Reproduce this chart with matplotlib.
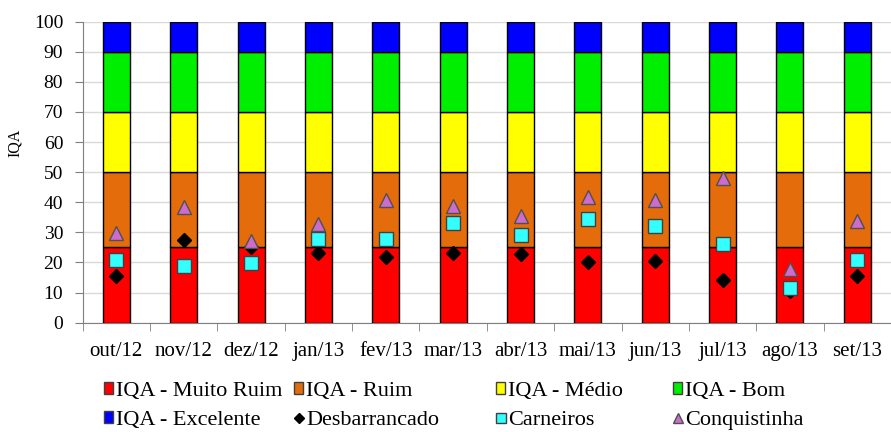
import numpy as np
import matplotlib
matplotlib.use('Agg')
import matplotlib.pyplot as plt
from matplotlib.patches import Patch
from matplotlib.lines import Line2D

plt.rcParams['font.family'] = ['Liberation Serif', 'DejaVu Serif']

meses = ['out/12', 'nov/12', 'dez/12', 'jan/13', 'fev/13', 'mar/13',
         'abr/13', 'mai/13', 'jun/13', 'jul/13', 'ago/13', 'set/13']

# faixas do IQA (empilhadas)
muito_ruim = [25] * 12
ruim = [25] * 12
medio = [20] * 12
bom = [20] * 12
excelente = [10] * 12

# pontos de coleta
desbarrancado = [15.6, 27.5, 25.3, 23.1, 21.8, 23.3, 22.9, 20.3, 20.5, 14.3, 10.5, 15.4]
carneiros = [20.9, 18.9, 19.8, 27.7, 27.7, 33.2, 29.1, 34.3, 32.0, 26.1, 11.6, 20.9]
conquistinha = [29.8, 38.5, 27.3, 32.8, 40.7, 38.7, 35.5, 41.6, 40.7, 48.2, 17.9, 33.8]

faixas = [('IQA - Muito Ruim', muito_ruim, '#ff0000'),
          ('IQA - Ruim', ruim, '#e46c0a'),
          ('IQA - Médio', medio, '#ffff00'),
          ('IQA - Bom', bom, '#00ee00'),
          ('IQA - Excelente', excelente, '#0000ff')]

fig = plt.figure(figsize=(8.91, 4.32), dpi=100)
ax = fig.add_axes([0.0928, 0.253, 0.9072, 0.697])

x = np.arange(len(meses))
base = np.zeros(len(meses))
handles = {}
for nome, vals, cor in faixas:
    ax.bar(x, vals, width=0.4, bottom=base, color=cor, edgecolor='black',
           linewidth=1.0, zorder=2)
    base = base + np.array(vals)
    handles[nome] = Patch(facecolor=cor, edgecolor='#404040', linewidth=1.0)

ax.plot(x, desbarrancado, linestyle='none', marker='D', markersize=7,
        color='black', zorder=3)
ax.plot(x, carneiros, linestyle='none', marker='s', markersize=10.5,
        markerfacecolor='#33ffff', markeredgecolor='#404040', markeredgewidth=1.0, zorder=4)
ax.plot(x, conquistinha, linestyle='none', marker='^', markersize=10.5,
        markerfacecolor='#cc6ccc', markeredgecolor='#505050', markeredgewidth=1.0, zorder=5)

handles['Desbarrancado'] = Line2D([], [], linestyle='none', marker='D', markersize=5.5, color='black')
handles['Carneiros'] = Line2D([], [], linestyle='none', marker='s', markersize=6.5,
                              markerfacecolor='#33ffff', markeredgecolor='#404040')
handles['Conquistinha'] = Line2D([], [], linestyle='none', marker='^', markersize=6.5,
                                 markerfacecolor='#cc6ccc', markeredgecolor='#505050')

ax.set_xlim(-0.5, 11.42)
ax.set_ylim(0, 100)
ax.set_yticks(range(0, 101, 10))
ax.yaxis.grid(True, color='#d9d9d9', linewidth=1.0, zorder=0)
ax.set_axisbelow(True)
ax.set_xticks(x)
ax.set_xticklabels(meses)
ax.set_xticks(np.arange(-0.5, 12, 1), minor=True)
ax.tick_params(axis='x', which='major', length=0, labelsize=15, pad=14)
ax.tick_params(axis='x', which='minor', length=6, color='#7f7f7f', direction='out')
ax.tick_params(axis='y', length=6, color='#7f7f7f', labelsize=14, pad=8)
for s in ['top', 'right']:
    ax.spines[s].set_visible(False)
ax.spines['left'].set_color('#7f7f7f')
ax.spines['bottom'].set_color('#7f7f7f')
ax.set_ylabel('IQA', fontsize=11.5)
ax.yaxis.set_label_coords(-0.074, 0.597)

# legenda em 4 colunas (posições como no original)
colunas = [['IQA - Muito Ruim', 'IQA - Excelente'],
           ['IQA - Ruim', 'Desbarrancado'],
           ['IQA - Médio', 'Carneiros'],
           ['IQA - Bom', 'Conquistinha']]
col_x = [104, 294, 496, 673]
for nomes, cx in zip(colunas, col_x):
    fig.legend([handles[n] for n in nomes], nomes, loc='upper left',
               bbox_to_anchor=(cx / 891, 1 - 382 / 432), frameon=False, fontsize=16,
               handlelength=0.42, handleheight=0.42, handletextpad=0.12,
               labelspacing=0.45, borderaxespad=0, borderpad=0)

fig.savefig('out.png', dpi=100)
